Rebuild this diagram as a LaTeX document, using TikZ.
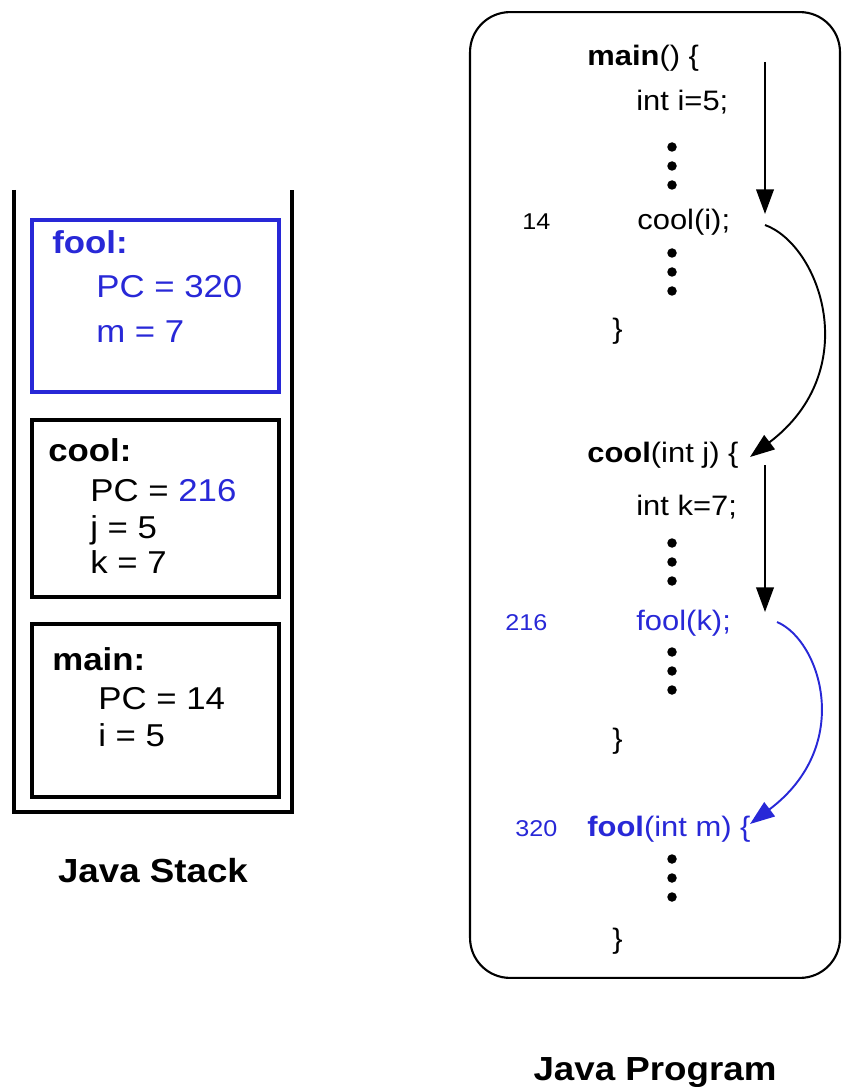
\documentclass[tikz,border=0pt]{standalone}
\usepackage{fontspec}
\setmainfont[FakeStretch=1.1]{Liberation Sans}
\usetikzlibrary{arrows.meta}
\definecolor{callblue}{RGB}{40,40,215}
\newcommand{\codedots}[1]{\foreach \dy in {0,19,38} \fill (672,#1+\dy) circle[radius=0.095cm];}

\begin{document}
\begin{tikzpicture}[x=0.02cm,y=-0.02cm,
  frame/.style={draw,line width=2.2pt,minimum width=4.94cm,anchor=north west,inner sep=0pt},
  stk/.style={anchor=base west,inner sep=0pt,font=\fontsize{18}{20}\selectfont},
  code/.style={anchor=base west,inner sep=0pt,font=\fontsize{16}{18}\selectfont},
  lineno/.style={anchor=base west,inner sep=0pt,font=\fontsize{13}{15}\selectfont},
  title/.style={anchor=base,inner sep=0pt,font=\bfseries\fontsize{19}{21}\selectfont},
  flow/.style={-{Triangle[length=14pt,width=10pt]},line width=1.1pt}
]
\useasboundingbox (0,0) rectangle (848,1087);

% Java stack
\draw[line width=2.2pt] (14,190) -- (14,812) -- (292,812) -- (292,190);
\node[frame,draw=callblue,minimum height=3.44cm] (foolframe) at (30,218) {};
\node[frame,minimum height=3.54cm] (coolframe) at (30,418) {};
\node[frame,minimum height=3.46cm] (mainframe) at (30,622) {};

\node[stk,text=callblue] (foolname) at (52,254) {\textbf{fool:}};
\node[stk,text=callblue] (foolpc) at (96,298) {PC = 320};
\node[stk,text=callblue] (foolm) at (96,342) {m = 7};

\node[stk] (coolname) at (48,461) {\textbf{cool:}};
\node[stk] (coolpc) at (90,501) {PC = \textcolor{callblue}{216}};
\node[stk] (coolj) at (90,538) {j = 5};
\node[stk] (coolk) at (90,573) {k = 7};

\node[stk] (mainname) at (52,670) {\textbf{main:}};
\node[stk] (mainpc) at (98,709) {PC = 14};
\node[stk] (maini) at (98,746) {i = 5};

\node[title] (stacktitle) at (153,882) {Java Stack};

% Java program
\node[draw,rounded corners=0.8cm,line width=1.2pt,minimum width=7.4cm,minimum height=19.32cm] (prog) at (655,495) {};

\node[code] (mainhead) at (587,66) {\textbf{main}() \{};
\node[code] (mainint) at (636,111) {int i=5;};
\codedots{147}
\node[lineno] (no14) at (522,230) {14};
\node[code] (coolcall) at (637,230) {cool(i);};
\codedots{253}
\node[code] (mainend) at (612,338) {\}};

\node[code] (coolhead) at (587,462) {\textbf{cool}(int j) \{};
\node[code] (coolint) at (636,515) {int k=7;};
\codedots{543}
\node[lineno,text=callblue] (no216) at (505,630) {216};
\node[code,text=callblue] (foolcall) at (636,630) {fool(k);};
\codedots{652}
\node[code] (coolend) at (612,748) {\}};

\node[lineno,text=callblue] (no320) at (515,836) {320};
\node[code,text=callblue] (foolhead) at (587,836) {\textbf{fool}(int m) \{};
\codedots{859}
\node[code] (foolend) at (612,948) {\}};

\node[title] (progtitle) at (655,1080) {Java Program};

% Flow of control
\coordinate (mainrun) at (765,62);
\coordinate (mainstop) at (765,214);
\coordinate (coolleave) at (765,225);
\coordinate (coolenter) at (750,457);
\coordinate (coolrun) at (765,465);
\coordinate (coolstop) at (765,612);
\coordinate (foolleave) at (777,622);
\coordinate (foolenter) at (750,824);

\draw[flow] (mainrun) -- (mainstop);
\draw[flow] (coolleave) .. controls (820,245) and (865,370) .. (coolenter);
\draw[flow] (coolrun) -- (coolstop);
\draw[flow,callblue] (foolleave) .. controls (820,640) and (855,745) .. (foolenter);
\end{tikzpicture}
\end{document}
